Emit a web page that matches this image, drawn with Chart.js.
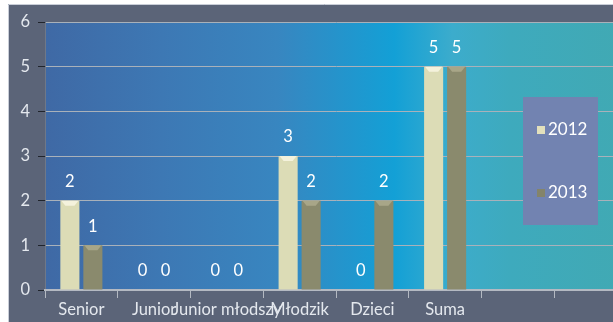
<!DOCTYPE html>
<html>
<head>
<meta charset="utf-8">
<script src="https://cdn.jsdelivr.net/npm/chart.js@4/dist/chart.umd.min.js"></script>
<style>
   html, body { margin: 0; padding: 0; background: #fff; overflow: hidden; }
   #wrap { position: absolute; left: 0; top: 0; width: 640px; height: 322px; }
</style>
</head>
<body>
<div id="wrap"><canvas id="chart"></canvas></div>
<script>
// Categories, series and axis ticks
// ----------------------------------------------
const categories = ['Senior', 'Junior', 'Junior młodszy', 'Młodzik', 'Dzieci', 'Suma', '', ''];
const values2012 = [2, 0, 0, 3, 0, 5, null, null];
const values2013 = [1, 0, 0, 2, 2, 5, null, null];
const yTicks     = [0, 1, 2, 3, 4, 5, 6];

const fontFamily = 'Lato, "Noto Sans", sans-serif';
const labelColor = '#e4e8ee';
const gridColor  = '#a9b1ba';

// Bar fill: horizontal shading across the bar width
function barFill( light, mid, dark ) {
   return ( ctx ) => {
      const el = ctx.element;
      if ( !el || el.width == null ) return mid;
      const c = ctx.chart.ctx;
      const x0 = el.x - el.width / 2, x1 = el.x + el.width / 2;
      const g = c.createLinearGradient( x0, 0, x1, 0 );
      g.addColorStop( 0, dark );
      g.addColorStop( 0.35, light );
      g.addColorStop( 0.7, mid );
      g.addColorStop( 1, dark );
      return g;
   };
}

// Frame, plot background, bevel tops, value labels and legend
// ----------------------------------------------
const decor = {
   id: 'decor',
   beforeDraw( chart ) {
      const { ctx, chartArea: a, width, height } = chart;
      ctx.save();
      ctx.fillStyle = '#ffffff';
      ctx.fillRect( 0, 0, width, height );
      ctx.fillStyle = '#5b6478';
      ctx.fillRect( 8, 4, width - 8, height - 4 );
      ctx.strokeStyle = '#c9ced8';
      ctx.lineWidth = 1;
      ctx.beginPath();
      ctx.moveTo( 8.5, height );
      ctx.lineTo( 8.5, 4.5 );
      ctx.lineTo( width, 4.5 );
      ctx.stroke();

      const g = ctx.createLinearGradient( a.left, 0, a.right, 0 );
      g.addColorStop( 0, '#3f69a5' );
      g.addColorStop( 0.2, '#3d78b4' );
      g.addColorStop( 0.4, '#3886c0' );
      g.addColorStop( 0.6, '#13a0d6' );
      g.addColorStop( 0.7, '#3caccc' );
      g.addColorStop( 0.8, '#3eaabd' );
      g.addColorStop( 1, '#41a9b3' );
      ctx.fillStyle = g;
      ctx.fillRect( a.left, a.top, a.right - a.left, a.bottom - a.top );
      ctx.restore();
   },
   afterDatasetsDraw( chart ) {
      const ctx = chart.ctx;
      ctx.save();
      chart.data.datasets.forEach( ( ds, i ) => {
         const meta = chart.getDatasetMeta( i );
         meta.data.forEach( ( bar, j ) => {
            const v = ds.data[j];
            if ( v == null ) return;
            const w = bar.width, l = bar.x - w / 2, r = bar.x + w / 2;
            if ( v > 0 ) {
               ctx.fillStyle = ds.bevelColor;
               ctx.beginPath();
               ctx.moveTo( l + 1, bar.y );
               ctx.lineTo( r - 1, bar.y );
               ctx.lineTo( r - 5, bar.y + 5 );
               ctx.lineTo( l + 5, bar.y + 5 );
               ctx.closePath();
               ctx.fill();
            }
            ctx.fillStyle = '#ffffff';
            ctx.font = '16.5px ' + fontFamily;
            ctx.textAlign = 'center';
            ctx.textBaseline = 'middle';
            ctx.fillText( String( v ), bar.x, bar.y - 19 );
         });
      });

      // Legend box
      const bx = 523, by = 97, bw = 75, bh = 128;
      ctx.fillStyle = '#7283b1';
      ctx.fillRect( bx, by, bw, bh );
      const rows = [ 130, 193 ];
      chart.data.datasets.forEach( ( ds, i ) => {
         const cy = rows[i];
         ctx.fillStyle = ds.legendColor;
         ctx.fillRect( 537, cy - 4, 8, 8 );
         ctx.fillStyle = '#ffffff';
         ctx.font = '17px ' + fontFamily;
         ctx.textAlign = 'left';
         ctx.textBaseline = 'middle';
         ctx.fillText( ds.label, 548, cy );
      });
      ctx.restore();
   }
};

new Chart( document.getElementById('chart'), {
   type: 'bar',
   data: {
      labels: categories,
      datasets: [
         {
            label: '2012',
            data: values2012,
            backgroundColor: barFill( '#ecebcc', '#dcdcb6', '#c4c4a0' ),
            bevelColor: '#f4f2dc',
            legendColor: '#e2e0bc',
            categoryPercentage: 0.632,
            barPercentage: 0.83
         },
         {
            label: '2013',
            data: values2013,
            backgroundColor: barFill( '#999a7c', '#8a8a6d', '#72725a' ),
            bevelColor: '#a8a688',
            legendColor: '#84846a',
            categoryPercentage: 0.632,
            barPercentage: 0.83
         }
      ]
   },
   options: {
      responsive: true,
      maintainAspectRatio: false,
      animation: false,
      layout: {
         padding: { left: 0, top: 22, right: 13, bottom: 0 }
      },
      plugins: {
         legend: { display: false },
         tooltip: { enabled: false }
      },
      scales: {
         y: {
            min: 0,
            max: 6,
            afterFit( scale ) { scale.width = 45; },
            afterBuildTicks( scale ) { scale.ticks = yTicks.map( v => ({ value: v }) ); },
            border: { display: true, color: '#6f7888', width: 1 },
            grid: {
               color: gridColor,
               lineWidth: 1,
               tickLength: 7,
               tickColor: '#20242c'
            },
            ticks: {
               font: { size: 16.5, family: fontFamily },
               color: labelColor,
               padding: 8
            }
         },
         x: {
            afterFit( scale ) { scale.height = 32; },
            border: { display: true, color: '#b4b9c2', width: 2 },
            grid: {
               drawOnChartArea: false,
               offset: true,
               tickLength: 8,
               tickColor: '#b4b9c2'
            },
            ticks: {
               font: { size: 16.5, family: fontFamily },
               color: labelColor,
               autoSkip: false,
               maxRotation: 0,
               minRotation: 0,
               padding: 2
            }
         }
      }
   },
   plugins: [ decor ]
});
</script>
</body>
</html>
